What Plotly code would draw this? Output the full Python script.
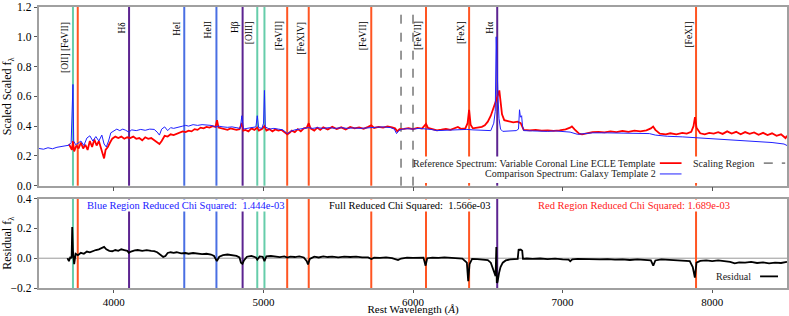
import plotly.graph_objects as go

# ---------------- data ----------------
comp_wl = [3500,3530,3560,3590,3620,3650,3680,3700,3715,3722,3727,3732,3745,3760,3780,3800,3820,3840,3860,3880,
           3900,3920,3935,3950,3965,3980,4000,4020,4040,4060,4080,4100,4120,4150,4180,4210,4240,4270,4290,4305,
           4320,4340,4360,4380,4400,4430,4460,4480,4500,4530,4560,4590,4620,4650,4680,4700,4730,4760,4790,4820,
           4845,4856,4866,4890,4920,4950,4959,4968,4990,5001,5007,5013,5040,5070,5100,5130,5160,5180,5210,5240,
           5270,5300,5330,5360,5400,5440,5480,5520,5560,5600,5650,5700,5750,5800,5850,5875,5890,5905,5930,5960,
           6000,6040,6080,6120,6160,6200,6240,6280,6320,6360,6400,6440,6480,6520,6540,6550,6556,6562,6568,6575,
           6585,6600,6650,6690,6705,6712,6718,6726,6732,6740,6800,6850,6900,6950,7000,7050,7100,7150,7200,7300,
           7400,7500,7580,7620,7700,7800,7900,8000,8100,8200,8300,8400,8480,8500]
comp_flux = [0.250,0.245,0.255,0.248,0.258,0.262,0.270,0.272,0.290,0.600,0.680,0.300,0.275,0.285,0.300,0.270,0.320,0.335,0.300,0.330,
             0.300,0.340,0.280,0.260,0.300,0.355,0.370,0.380,0.370,0.380,0.372,0.360,0.375,0.370,0.378,0.372,0.380,0.378,0.360,0.340,
             0.380,0.395,0.370,0.390,0.385,0.395,0.400,0.405,0.400,0.410,0.405,0.410,0.408,0.405,0.395,0.400,0.395,0.392,0.395,0.390,
             0.385,0.470,0.380,0.385,0.390,0.395,0.470,0.390,0.385,0.420,0.640,0.395,0.380,0.385,0.380,0.375,0.350,0.365,0.375,0.380,
             0.385,0.390,0.385,0.390,0.385,0.390,0.385,0.390,0.385,0.388,0.385,0.390,0.392,0.395,0.390,0.380,0.350,0.370,0.380,0.383,
             0.380,0.385,0.382,0.378,0.370,0.372,0.375,0.373,0.380,0.378,0.375,0.375,0.372,0.370,0.420,0.500,1.000,0.700,0.600,0.450,
             0.380,0.365,0.365,0.370,0.380,0.510,0.460,0.470,0.400,0.370,0.368,0.366,0.365,0.368,0.366,0.360,0.345,0.352,0.355,0.355,
             0.355,0.352,0.350,0.340,0.332,0.328,0.322,0.318,0.310,0.305,0.298,0.290,0.280,0.270]

ref_wl = [3700,3710,3720,3727,3735,3750,3765,3780,3795,3810,3825,3840,3855,3870,3885,3900,3915,3928,3935,3945,
          3960,3975,3990,4010,4030,4050,4070,4090,4110,4130,4150,4170,4190,4210,4230,4250,4270,4290,4305,4320,
          4340,4360,4380,4400,4420,4440,4460,4480,4500,4520,4540,4560,4580,4600,4620,4640,4660,4680,4690,4700,
          4720,4740,4760,4780,4800,4820,4840,4856,4866,4880,4900,4920,4940,4959,4970,4990,5007,5020,5040,5060,
          5080,5100,5120,5140,5160,5175,5190,5210,5230,5250,5270,5290,5303,5315,5340,5360,5380,5400,5430,5460,
          5490,5520,5550,5580,5610,5640,5670,5700,5721,5740,5770,5800,5830,5860,5880,5895,5910,5940,5970,6000,
          6030,6060,6087,6100,6130,6160,6190,6220,6250,6280,6300,6320,6350,6365,6375,6385,6400,6430,6460,6480,
          6500,6520,6540,6555,6565,6577,6585,6595,6610,6640,6670,6700,6720,6740,6780,6820,6860,6900,6940,6980,
          7020,7050,7062,7080,7110,7130,7160,7200,7240,7280,7320,7360,7400,7440,7480,7520,7560,7590,7605,7620,
          7650,7690,7720,7760,7800,7830,7860,7875,7885,7895,7920,7950,7980,8010,8040,8070,8100,8130,8160,8190,
          8220,8250,8280,8310,8340,8370,8400,8430,8460,8490,8500]
ref_flux = [0.280,0.260,0.240,0.300,0.230,0.270,0.250,0.290,0.250,0.275,0.240,0.300,0.260,0.310,0.270,0.300,0.250,0.220,0.183,0.240,
            0.260,0.290,0.316,0.330,0.320,0.330,0.315,0.325,0.320,0.330,0.315,0.320,0.305,0.325,0.315,0.320,0.305,0.285,0.280,0.300,
            0.335,0.330,0.345,0.340,0.350,0.355,0.365,0.360,0.370,0.365,0.380,0.375,0.390,0.385,0.395,0.390,0.400,0.395,0.440,0.390,
            0.385,0.380,0.375,0.385,0.380,0.375,0.380,0.420,0.370,0.375,0.365,0.385,0.375,0.390,0.370,0.380,0.400,0.370,0.380,0.365,
            0.378,0.370,0.375,0.360,0.345,0.355,0.370,0.360,0.380,0.365,0.385,0.390,0.420,0.385,0.370,0.390,0.375,0.392,0.378,0.395,
            0.380,0.392,0.378,0.395,0.385,0.392,0.382,0.395,0.405,0.388,0.395,0.390,0.398,0.392,0.385,0.365,0.380,0.382,0.386,0.380,
            0.388,0.384,0.415,0.388,0.380,0.372,0.376,0.382,0.375,0.385,0.395,0.382,0.385,0.420,0.510,0.410,0.385,0.390,0.395,0.405,
            0.430,0.470,0.526,0.560,0.600,0.640,0.560,0.480,0.440,0.430,0.425,0.430,0.420,0.375,0.372,0.375,0.370,0.372,0.368,0.372,
            0.378,0.390,0.398,0.378,0.350,0.345,0.352,0.360,0.362,0.358,0.365,0.360,0.368,0.362,0.370,0.365,0.372,0.385,0.397,0.375,
            0.350,0.345,0.352,0.345,0.355,0.350,0.362,0.400,0.460,0.390,0.352,0.345,0.355,0.350,0.360,0.348,0.365,0.350,0.362,0.345,
            0.360,0.348,0.358,0.342,0.355,0.340,0.352,0.335,0.345,0.320,0.335]

res_wl = [3690,3700,3710,3718,3722,3727,3735,3745,3760,3780,3800,3820,3840,3860,3880,3900,3920,3935,3950,3970,
          3990,4010,4030,4050,4070,4090,4100,4115,4140,4160,4190,4220,4250,4270,4290,4310,4330,4345,4360,4380,
          4400,4420,4450,4478,4500,4530,4560,4590,4620,4650,4670,4689,4705,4730,4760,4790,4820,4840,4850,4860,
          4870,4890,4920,4950,4959,4975,4995,5007,5020,5050,5080,5110,5140,5160,5180,5210,5240,5270,5290,5298,
          5310,5340,5370,5400,5430,5460,5500,5540,5580,5620,5660,5700,5722,5740,5780,5820,5860,5880,5900,5920,
          5960,6000,6040,6070,6084,6095,6130,6170,6210,6250,6290,6330,6360,6369,6378,6395,6430,6470,6500,6520,
          6540,6552,6557,6560,6565,6575,6585,6600,6620,6650,6680,6700,6706,6712,6720,6730,6735,6760,6800,6850,
          6900,6950,7000,7040,7051,7065,7100,7150,7200,7250,7300,7350,7400,7450,7500,7550,7590,7606,7620,7660,
          7700,7750,7800,7850,7870,7884,7895,7920,7960,8000,8040,8080,8120,8151,8180,8220,8260,8300,8340,8380,
          8420,8460,8500]
res_val = [0.000,-0.020,0.010,0.000,0.210,0.050,-0.040,0.030,0.020,0.036,0.030,0.045,0.040,0.050,0.055,0.060,0.070,0.076,0.060,0.050,
           0.047,0.055,0.050,0.060,0.055,0.050,0.036,0.045,0.052,0.055,0.050,0.054,0.050,0.048,0.040,0.025,0.009,0.015,0.035,0.040,
           0.036,0.040,0.032,0.035,0.030,0.035,0.030,0.028,0.030,0.025,0.015,-0.020,0.010,0.020,0.025,0.018,0.015,0.005,-0.030,-0.038,
           -0.015,0.010,0.015,0.005,-0.010,0.012,0.010,-0.020,0.012,0.015,0.010,0.008,0.012,0.004,0.010,0.008,0.012,0.005,-0.020,-0.042,
           -0.005,0.010,0.005,0.012,0.008,0.010,0.006,0.010,0.008,0.010,0.005,0.006,-0.005,0.004,0.002,0.006,0.000,-0.005,-0.012,-0.002,
           0.004,0.002,0.005,0.004,-0.050,0.000,0.004,0.002,0.006,0.004,0.000,-0.002,-0.030,-0.154,-0.040,-0.004,-0.006,-0.008,-0.012,-0.030,
           -0.080,-0.120,0.075,-0.165,-0.160,-0.100,-0.060,-0.030,-0.015,-0.008,-0.006,-0.005,0.060,0.055,0.058,0.050,-0.004,-0.002,-0.004,-0.002,
           -0.006,-0.003,-0.008,-0.010,-0.020,-0.008,-0.004,-0.006,-0.004,-0.008,-0.006,-0.010,-0.008,-0.012,-0.008,-0.010,-0.015,-0.050,-0.015,-0.008,
           -0.010,-0.012,-0.015,-0.020,-0.060,-0.130,-0.030,-0.018,-0.015,-0.020,-0.015,-0.020,-0.025,-0.035,-0.028,-0.030,-0.025,-0.032,-0.028,-0.035,
           -0.030,-0.032,-0.025]

line_wl = [3727, 3759, 4102, 4471, 4686, 4861, 4959, 5007, 5159, 5303, 5721, 6087, 6375, 6563, 7892]
line_kind = ["O", "Fe", "H", "He", "He", "H", "O", "O", "Fe", "Fe", "Fe", "Fe", "Fe", "H", "Fe"]
label_wl = [3727, 4102, 4471, 4686, 4861, 4959, 5159, 5303, 5721, 6087, 6375, 6563, 7892]
label_text = ["[OII] [FeVII]", "Hδ", "HeI", "HeII", "Hβ", "[OIII]", "[FeVII]", "[FeXIV]",
              "[FeVII]", "[FeVII]", "[FeX]", "Hα", "[FeXI]"]
scaling_wl = [5920, 6000]

x_ticks = [4000, 5000, 6000, 7000, 8000]
y2_ticks = [-0.2, 0.0, 0.2, 0.4]

chi_blue = "1.444e-03"
chi_full = "1.566e-03"
chi_red = "1.689e-03"

# ---------------- styles ----------------
FONT = "Liberation Serif"
kind_color = {"O": "#66cdaa", "Fe": "#ff5522", "H": "#5c2491", "He": "#4a6fe3"}
FRAME = "#a0a0a0"

fig = go.Figure()
fig.add_trace(go.Scatter(x=ref_wl, y=ref_flux, mode="lines", line=dict(color="#ff0000", width=1.8),
                         xaxis="x", yaxis="y", showlegend=False, hoverinfo="skip"))
fig.add_trace(go.Scatter(x=comp_wl, y=comp_flux, mode="lines", line=dict(color="#2020ff", width=1.0),
                         xaxis="x", yaxis="y", showlegend=False, hoverinfo="skip"))
fig.add_trace(go.Scatter(x=res_wl, y=res_val, mode="lines", line=dict(color="black", width=1.8),
                         xaxis="x2", yaxis="y2", showlegend=False, hoverinfo="skip"))

shapes = []
shapes.append(dict(type="line", xref="x2 domain", yref="y2", x0=0, x1=1, y0=0, y1=0,
                   line=dict(color="#999999", width=1), layer="below"))
for wl, k in zip(line_wl, line_kind):
    for yr in ["y domain", "y2 domain"]:
        shapes.append(dict(type="line", xref="x", yref=yr, x0=wl, x1=wl, y0=0, y1=1,
                           line=dict(color=kind_color[k], width=2), layer="below"))
for wl in scaling_wl:
    shapes.append(dict(type="line", xref="x", yref="y domain", x0=wl, x1=wl, y0=0, y1=1,
                       line=dict(color="#333333", width=1, dash="dash"), layer="below"))

# legend box (top panel)
shapes.append(dict(type="rect", xref="x", yref="y", x0=6020, x1=8495, y0=0.018, y1=0.196,
                   fillcolor="white", line=dict(width=0), layer="above"))
shapes.append(dict(type="line", xref="x", yref="y", x0=7650, x1=7795, y0=0.152, y1=0.152,
                   line=dict(color="#ff0000", width=1.8), layer="above"))
shapes.append(dict(type="line", xref="x", yref="y", x0=7650, x1=7795, y0=0.079, y1=0.079,
                   line=dict(color="#2020ff", width=1.0), layer="above"))
shapes.append(dict(type="line", xref="x", yref="y", x0=8345, x1=8488, y0=0.152, y1=0.152,
                   line=dict(color="#333333", width=1, dash="dash"), layer="above"))
shapes.append(dict(type="line", xref="x2", yref="y2", x0=8320, x1=8440, y0=-0.122, y1=-0.122,
                   line=dict(color="black", width=1.8), layer="above"))

annotations = []
for wl, t in zip(label_wl, label_text):
    annotations.append(dict(x=wl, y=0.93, xref="x", yref="y domain", text=t, textangle=-90,
                            showarrow=False, xanchor="right", yanchor="top", xshift=-1,
                            font=dict(family=FONT, size=9.5, color="black")))
leg_font = dict(family=FONT, size=10, color="#222222")
annotations += [
    dict(x=7635, y=0.152, xref="x", yref="y", text="Reference Spectrum: Variable Coronal Line ECLE Template",
         showarrow=False, xanchor="right", yanchor="middle", font=leg_font),
    dict(x=7635, y=0.079, xref="x", yref="y", text="Comparison Spectrum: Galaxy Template 2",
         showarrow=False, xanchor="right", yanchor="middle", font=leg_font),
    dict(x=8293, y=0.152, xref="x", yref="y", text="Scaling Region",
         showarrow=False, xanchor="right", yanchor="middle", font=leg_font),
    dict(x=8273, y=-0.122, xref="x2", yref="y2", text="Residual",
         showarrow=False, xanchor="right", yanchor="middle", font=leg_font),
]
chi_font = 10.5
annotations += [
    dict(x=3813, y=0.4, xref="x2", yref="y2", text="Blue Region Reduced Chi Squared:\u00a0 " + chi_blue,
         showarrow=False, xanchor="left", yanchor="top", bgcolor="white", borderpad=0,
         font=dict(family=FONT, size=chi_font, color="#1a1aff")),
    dict(x=5433, y=0.4, xref="x2", yref="y2", text="Full Reduced Chi Squared:\u00a0 " + chi_full,
         showarrow=False, xanchor="left", yanchor="top", bgcolor="white", borderpad=0,
         font=dict(family=FONT, size=chi_font, color="black")),
    dict(x=6827, y=0.4, xref="x2", yref="y2", text="Red Region Reduced Chi Squared: " + chi_red,
         showarrow=False, xanchor="left", yanchor="top", bgcolor="white", borderpad=0,
         font=dict(family=FONT, size=chi_font, color="#ff2020")),
]

axis_common = dict(showline=True, mirror=True, linecolor=FRAME, linewidth=1.5, ticks="outside",
                   ticklen=3.5, tickwidth=1, tickcolor="#555555", showgrid=False, zeroline=False,
                   automargin=False, ticklabeloverflow="allow")
tick_font = dict(family=FONT, size=11.5, color="black")
title_font = dict(family=FONT, size=12, color="black")

fig.update_layout(
    width=789, height=316,
    margin=dict(l=39, r=2, t=7, b=28),
    paper_bgcolor="white", plot_bgcolor="white",
    font=dict(family=FONT, color="black"),
    showlegend=False,
    xaxis=dict(domain=[0, 1], anchor="y", range=[3500, 8500], tickvals=x_ticks, showticklabels=False,
               tickfont=tick_font, **axis_common),
    yaxis=dict(domain=[0.364, 1.0], anchor="x", range=[0, 1.2], tickmode="linear", tick0=0, dtick=0.2,
               tickformat=".1f", tickfont=tick_font,
               title=dict(text="Scaled Scaled f<sub>λ</sub>", font=title_font, standoff=4),
               **axis_common),
    xaxis2=dict(domain=[0, 1], anchor="y2", range=[3500, 8500], matches="x", tickvals=x_ticks,
                ticktext=[str(v) for v in x_ticks], tickfont=dict(family=FONT, size=11, color="black"),
                title=dict(text="Rest Wavelength (<i>Å</i>)", font=dict(family=FONT, size=11, color="black"),
                           standoff=5),
                **axis_common),
    yaxis2=dict(domain=[0, 0.318], anchor="x2", range=[-0.2, 0.4], tickvals=y2_ticks,
                ticktext=["\u22120.2", "0.0", "0.2", "0.4"], tickfont=tick_font,
                title=dict(text="Residual f<sub>λ</sub>", font=title_font, standoff=4),
                **axis_common),
    shapes=shapes,
    annotations=annotations,
)

fig.write_html("out.html", config={"displayModeBar": False},
               post_script="document.body.style.margin='0px';")
